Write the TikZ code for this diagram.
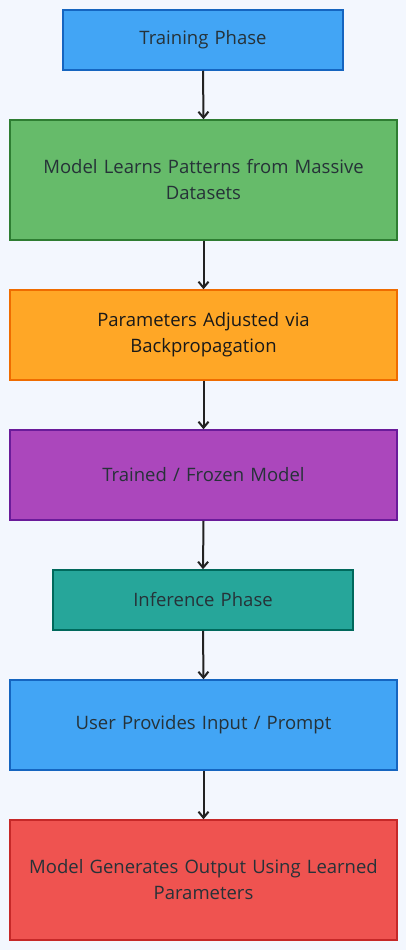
\documentclass[tikz,border=0pt]{standalone}
\usepackage{fontspec}
\setmainfont{Open Sans}
\usetikzlibrary{arrows.meta}
\definecolor{bg}{HTML}{F3F7FE}
\definecolor{txt}{HTML}{263238}
\definecolor{bluef}{HTML}{42A5F5}\definecolor{blued}{HTML}{1565C0}
\definecolor{greenf}{HTML}{66BB6A}\definecolor{greend}{HTML}{2E7D32}
\definecolor{orangef}{HTML}{FFA726}\definecolor{oranged}{HTML}{EF6C00}
\definecolor{purplef}{HTML}{AB47BC}\definecolor{purpled}{HTML}{6A1B9A}
\definecolor{tealf}{HTML}{26A69A}\definecolor{teald}{HTML}{00695C}
\definecolor{redf}{HTML}{EF5350}\definecolor{redd}{HTML}{C62828}
\definecolor{arr}{HTML}{222222}
\tikzset{
  box/.style={rectangle, line width=1.5pt, inner sep=0pt, text width=#1, align=center,
    font=\fontsize{18.5}{26}\selectfont, text=txt},
  box/.default=370pt,
  conn/.style={draw=arr, line width=2pt, -{Straight Barb[length=6pt,width=10pt,line width=2pt]}}
}
\begin{document}
\begin{tikzpicture}[x=1pt,y=-1pt]
\fill[bg] (0,0) rectangle (406,950);
\useasboundingbox (0,0) rectangle (406,950);
\node[box=270pt, fill=bluef, draw=blued, minimum width=280pt, minimum height=60pt] (n1) at (203,40) {Training Phase};
\node[box, fill=greenf, draw=greend, minimum width=387pt, minimum height=120pt] (n2) at (203.5,180) {Model Learns Patterns from Massive\\Datasets};
\node[box, fill=orangef, draw=oranged, text=black!90, minimum width=387pt, minimum height=90pt] (n3) at (203.5,335) {Parameters Adjusted via\\Backpropagation};
\node[box, fill=purplef, draw=purpled, minimum width=387pt, minimum height=90pt] (n4) at (203.5,475) {Trained / Frozen Model};
\node[box=290pt, fill=tealf, draw=teald, minimum width=300pt, minimum height=60pt] (n5) at (203,600) {Inference Phase};
\node[box, fill=bluef, draw=blued, minimum width=387pt, minimum height=90pt] (n6) at (203.5,725) {User Provides Input / Prompt};
\node[box, fill=redf, draw=redd, minimum width=387pt, minimum height=120pt] (n7) at (203.5,880) {Model Generates Output Using Learned\\Parameters};
\draw[conn] (n1.south) -- (n2.north);
\draw[conn] (n2.south) -- (n3.north);
\draw[conn] (n3.south) -- (n4.north);
\draw[conn] (n4.south) -- (n5.north);
\draw[conn] (n5.south) -- (n6.north);
\draw[conn] (n6.south) -- (n7.north);
\end{tikzpicture}
\end{document}
